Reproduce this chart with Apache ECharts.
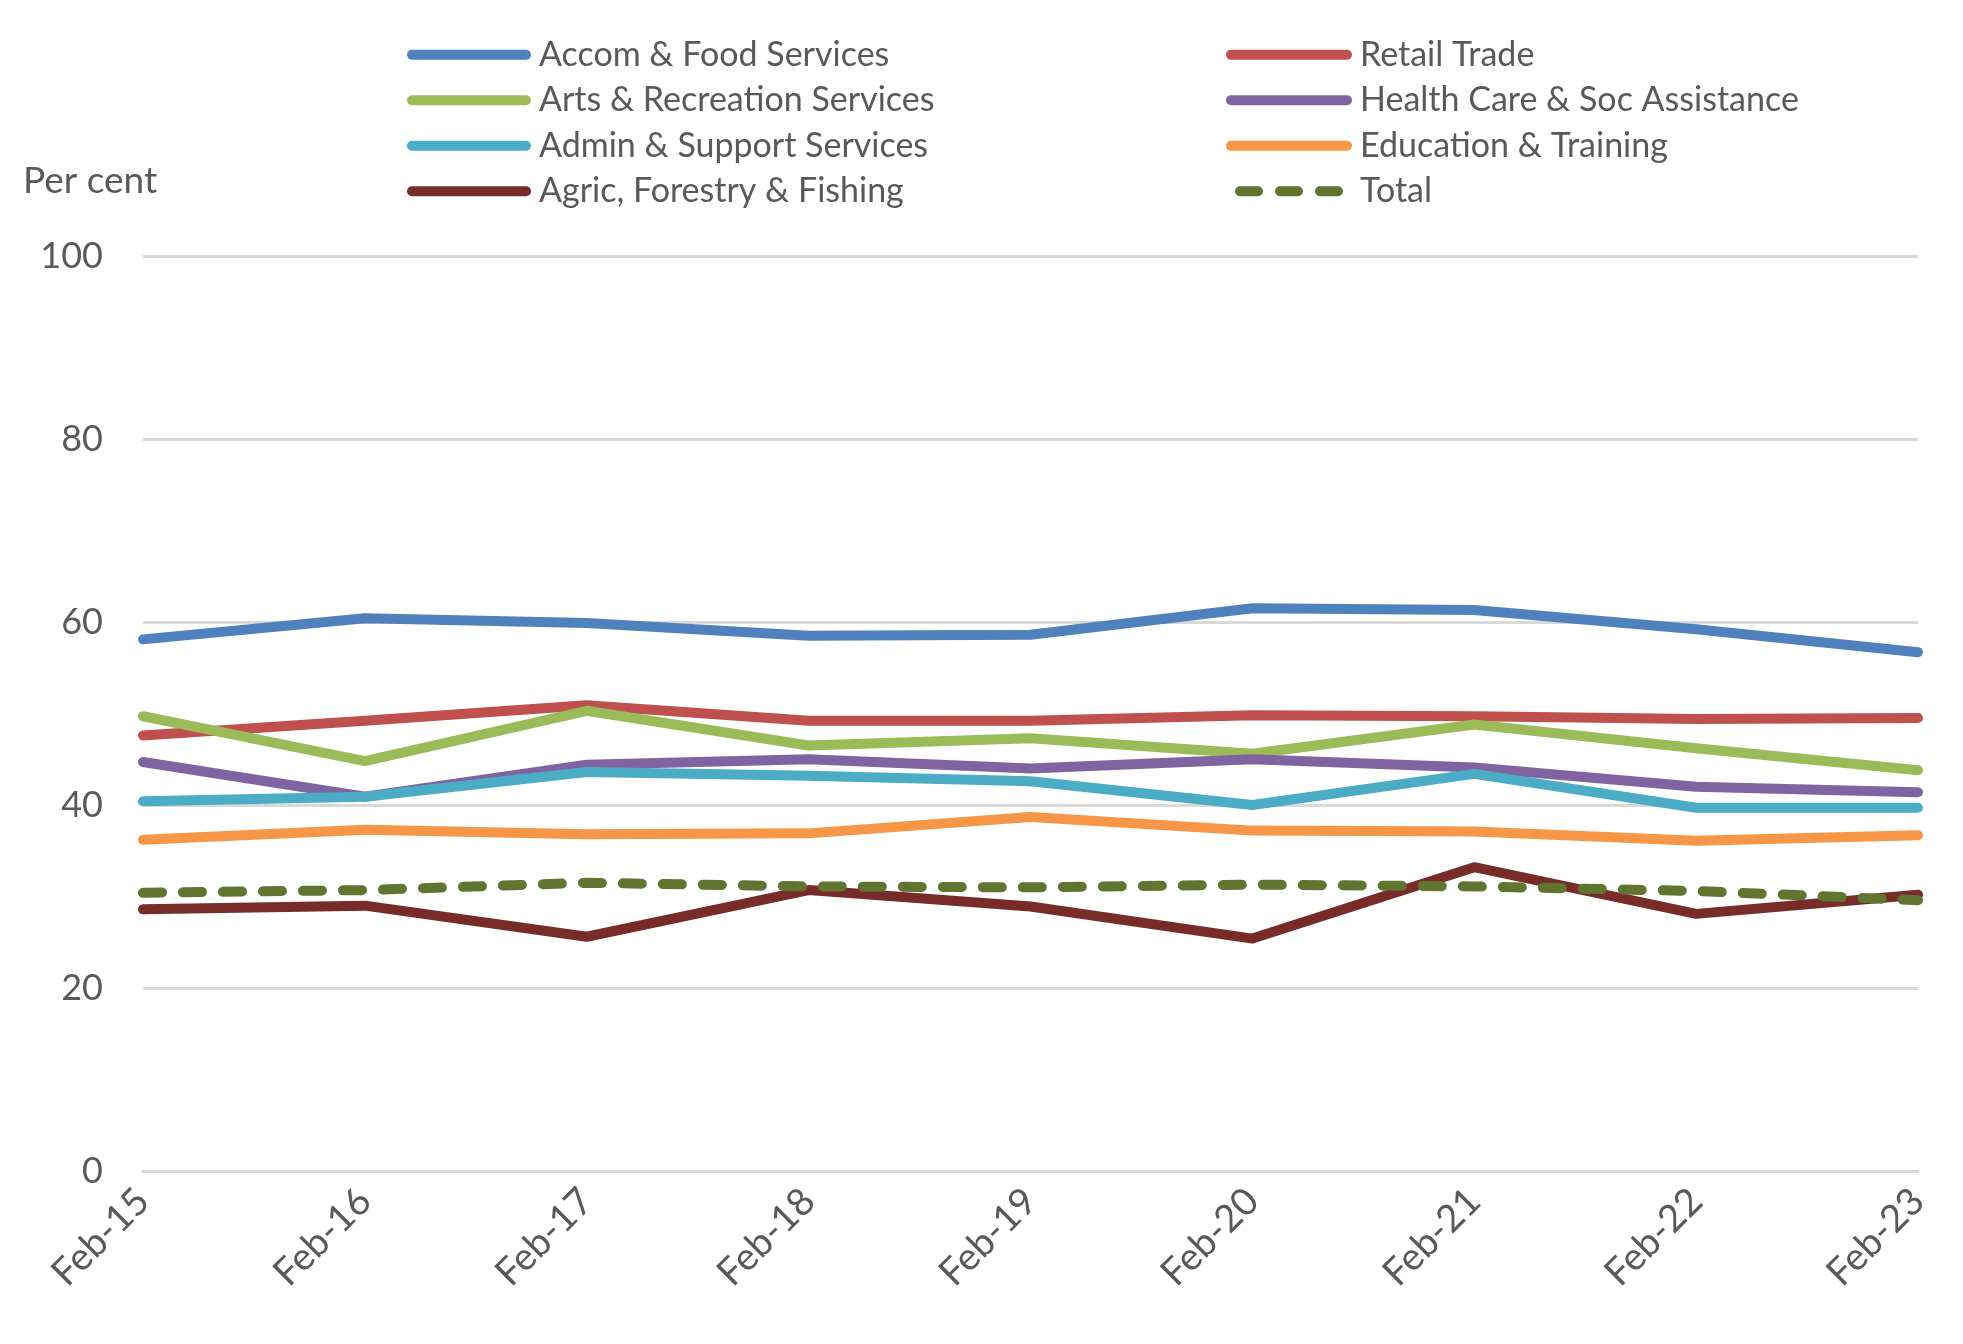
<!DOCTYPE html>
<html>
<head>
<meta charset="utf-8">
<script src="https://cdn.jsdelivr.net/npm/echarts@6/dist/echarts.min.js"></script>
<style>html,body{margin:0;padding:0;background:#fff}#c{width:1963px;height:1344px}</style>
</head>
<body>
<div id="c"></div>
<script>
const categories = ['Feb-15','Feb-16','Feb-17','Feb-18','Feb-19','Feb-20','Feb-21','Feb-22','Feb-23'];
const yTicks = [0, 20, 40, 60, 80, 100];

const accomFood   = [58.1, 60.4, 59.9, 58.5, 58.6, 61.5, 61.3, 59.2, 56.7];
const retail      = [47.6, 49.2, 50.9, 49.2, 49.2, 49.8, 49.7, 49.4, 49.5];
const artsRec     = [49.7, 44.8, 50.3, 46.5, 47.3, 45.6, 48.8, 46.2, 43.8];
const healthCare  = [44.7, 40.9, 44.4, 45.0, 44.0, 45.0, 44.1, 42.0, 41.4];
const adminSupp   = [40.4, 40.9, 43.6, 43.2, 42.6, 40.0, 43.4, 39.7, 39.7];
const education   = [36.2, 37.3, 36.8, 36.9, 38.7, 37.2, 37.1, 36.1, 36.7];
const agric       = [28.6, 29.0, 25.6, 30.7, 28.9, 25.4, 33.2, 28.1, 30.2];
const total       = [30.4, 30.7, 31.5, 31.1, 31.0, 31.3, 31.1, 30.6, 29.6];

const FONT = 'Lato';
const TXT = '#595959';

const SOLID_ICON = 'path://M5,0 L121,0 A5,5 0 0 1 121,10 L5,10 A5,5 0 0 1 5,0 Z';
const DASH_ICON = 'path://M5,0 L23,0 A5,5 0 0 1 23,10 L5,10 A5,5 0 0 1 5,0 Z ' +
                  'M45,0 L63,0 A5,5 0 0 1 63,10 L45,10 A5,5 0 0 1 45,0 Z ' +
                  'M85,0 L103,0 A5,5 0 0 1 103,10 L85,10 A5,5 0 0 1 85,0 Z';

function mk(name, data, color, dashed) {
  return {
    name: name, type: 'line', data: data,
    symbol: 'none', showSymbol: false, smooth: false,
    lineStyle: { color: color, width: 10, cap: 'round', join: 'round', type: dashed ? [19, 21] : 'solid' },
    itemStyle: { color: color },
    emphasis: { disabled: true },
    z: dashed ? 3 : 2
  };
}

function items(names) {
  return names.map(n => ({ name: n, icon: n === 'Total' ? DASH_ICON : SOLID_ICON }));
}

const chart = echarts.init(document.getElementById('c'), null, { renderer: 'canvas' });
const legendCommon = {
  orient: 'vertical', top: 27, itemHeight: 10, itemGap: 0,
  itemStyle: { borderWidth: 0 },
  textStyle: { fontFamily: FONT, fontSize: 34, color: TXT, lineHeight: 45.5, padding: [0, 0, 0, 3] },
  selectedMode: false
};
chart.setOption({
  animation: false,
  backgroundColor: '#ffffff',
  title: {
    text: 'Per cent', left: 18, top: 158,
    textStyle: { fontFamily: FONT, fontSize: 37, color: TXT, fontWeight: 'normal' }
  },
  legend: [
    Object.assign({}, legendCommon, { left: 402, itemWidth: 124, data: items(['Accom & Food Services','Arts & Recreation Services','Admin & Support Services','Agric, Forestry & Fishing']) }),
    Object.assign({}, legendCommon, { left: 1221, itemWidth: 126, data: items(['Retail Trade','Health Care & Soc Assistance','Education & Training','Total']) })
  ],
  grid: { left: 143, right: 45, top: 256, bottom: 173, containLabel: false },
  xAxis: {
    type: 'category', data: categories, boundaryGap: false,
    axisLine: { show: true, lineStyle: { color: '#D9D9D9', width: 3 } },
    axisTick: { show: false },
    axisLabel: { rotate: 45, margin: 24, fontFamily: FONT, fontSize: 38, color: TXT, interval: 0 }
  },
  yAxis: {
    type: 'value', min: yTicks[0], max: yTicks[yTicks.length - 1], interval: 20,
    axisLine: { show: false }, axisTick: { show: false },
    axisLabel: { margin: 40, fontFamily: FONT, fontSize: 36, color: TXT },
    splitLine: { show: true, lineStyle: { color: '#D9D9D9', width: 3 } }
  },
  series: [
    mk('Accom & Food Services', accomFood, '#4F81BD'),
    mk('Retail Trade', retail, '#C0504D'),
    mk('Arts & Recreation Services', artsRec, '#9BBB59'),
    mk('Health Care & Soc Assistance', healthCare, '#8064A2'),
    mk('Admin & Support Services', adminSupp, '#4BACC6'),
    mk('Education & Training', education, '#F79646'),
    mk('Agric, Forestry & Fishing', agric, '#772C2A'),
    mk('Total', total, '#5F7530', true)
  ]
});
</script>
</body>
</html>
